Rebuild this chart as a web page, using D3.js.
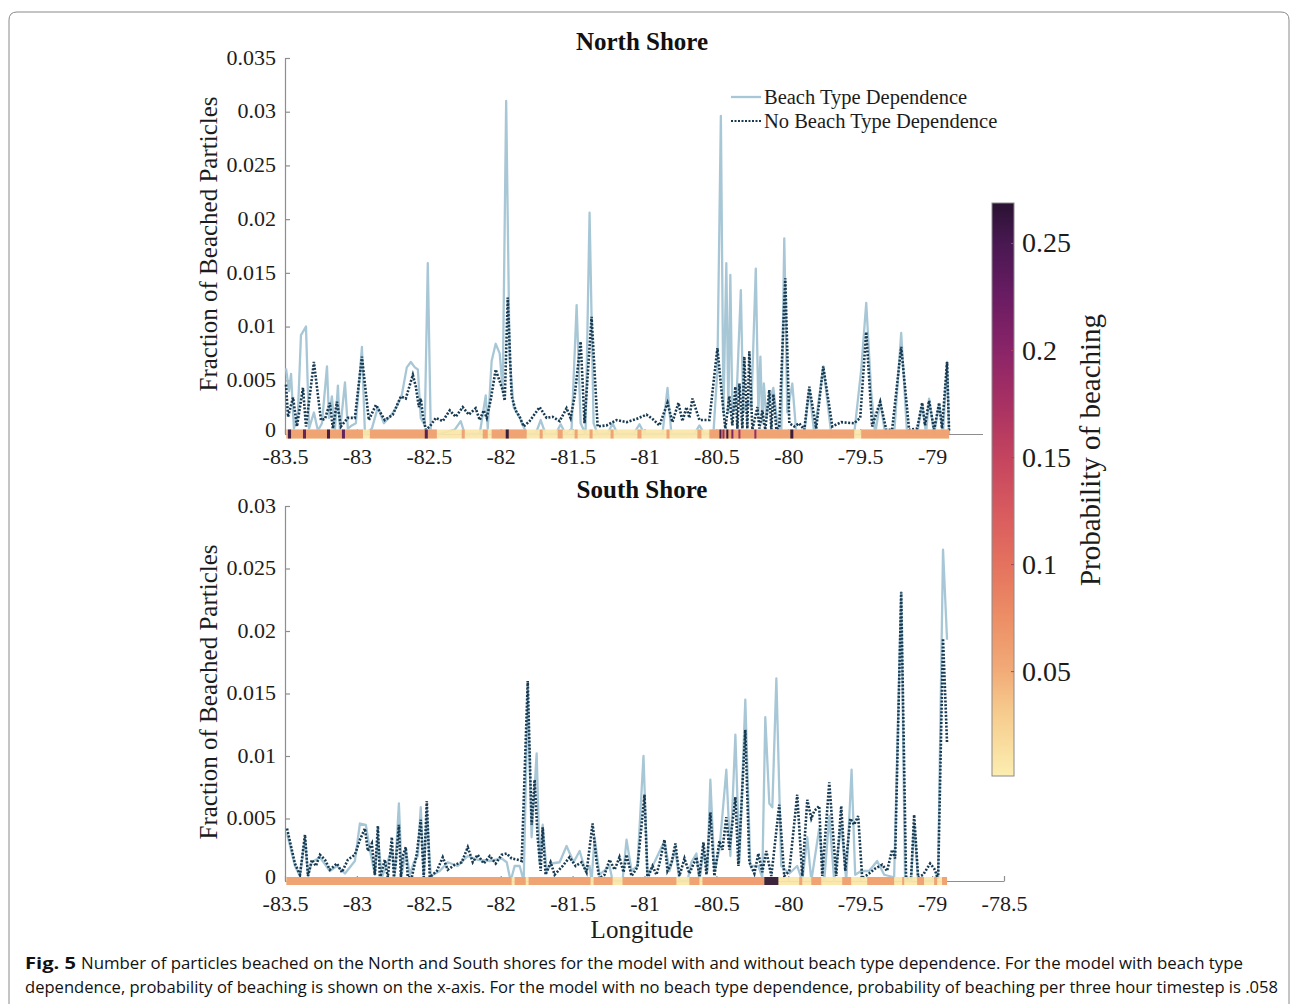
<!DOCTYPE html>
<html><head><meta charset="utf-8">
<script src="https://cdn.jsdelivr.net/npm/d3@7"></script>
<style>body{margin:0;background:#fff}svg{display:block}</style>
</head><body>
<script>
// ---------------- DATA ----------------
const xTicks = [-83.5,-83,-82.5,-82,-81.5,-81,-80.5,-80,-79.5,-79,-78.5];
const xTickLabels = ["-83.5","-83","-82.5","-82","-81.5","-81","-80.5","-80","-79.5","-79","-78.5"];
const northYTicks = [0,0.005,0.01,0.015,0.02,0.025,0.03,0.035];
const northYLabels = ["0","0.005","0.01","0.015","0.02","0.025","0.03","0.035"];
const southYTicks = [0,0.005,0.01,0.015,0.02,0.025,0.03];
const southYLabels = ["0","0.005","0.01","0.015","0.02","0.025","0.03"];
const cbTicks = [0.05,0.1,0.15,0.2,0.25];
const cbTickLabels = ["0.05","0.1","0.15","0.2","0.25"];
const cbStopValues = [0.001,0.03,0.05,0.075,0.1,0.125,0.15,0.175,0.2,0.225,0.25,0.2687];
const cbStopColors = ["#fbeeb0","#f6cc8e","#f2ab78","#ec8e66","#e4725e","#d85a5e","#c4445f","#a83163","#8a2468","#6a1c62","#481851","#2a1232"];
const seriesNames = ["Beach Type Dependence","No Beach Type Dependence"];

// North shore, beach type dependence [longitude, fraction]
const northBeach = [[-83.493,0.0061],[-83.472,0.004],[-83.458,0.0056],[-83.438,0.0005],[-83.41,0.002],[-83.389,0.0092],[-83.354,0.01],[-83.333,0.0005],[-83.299,0.002],[-83.271,0.0003],[-83.243,0.001],[-83.208,0.0063],[-83.194,0.0015],[-83.174,0.0035],[-83.153,0.0003],[-83.132,0.0045],[-83.118,0.0002],[-83.083,0.0048],[-83.063,0.0005],[-83.035,0.0008],[-83.007,0.001],[-82.965,0.0081],[-82.944,0.0],[-82.896,0.0005],[-82.854,0.0025],[-82.812,0.001],[-82.771,0.0016],[-82.729,0.0024],[-82.688,0.0036],[-82.653,0.0062],[-82.625,0.0067],[-82.597,0.0062],[-82.576,0.006],[-82.556,0.0015],[-82.528,0.0008],[-82.507,0.0159],[-82.486,0.0],[-82.424,0.0],[-82.319,0.0004],[-82.278,0.0012],[-82.25,0.0],[-82.146,0.0],[-82.104,0.0036],[-82.09,0.0005],[-82.063,0.0068],[-82.035,0.0084],[-82.007,0.0075],[-81.986,0.004],[-81.962,0.031],[-81.938,0.007],[-81.91,0.0025],[-81.868,0.0015],[-81.819,0.0],[-81.757,0.0],[-81.722,0.0013],[-81.688,0.0],[-81.618,0.0],[-81.583,0.0009],[-81.549,0.0],[-81.507,0.0005],[-81.472,0.012],[-81.444,0.001],[-81.41,0.0],[-81.382,0.0206],[-81.354,0.001],[-81.326,0.0],[-81.257,0.0],[-81.222,0.001],[-81.188,0.0],[-81.076,0.0],[-81.035,0.0009],[-81.0,0.0],[-80.875,0.0],[-80.84,0.0043],[-80.813,0.0],[-80.653,0.0],[-80.618,0.0008],[-80.583,0.0],[-80.521,0.0],[-80.493,0.006],[-80.469,0.0296],[-80.451,0.002],[-80.431,0.0159],[-80.417,0.002],[-80.403,0.0148],[-80.389,0.002],[-80.361,0.003],[-80.33,0.0134],[-80.313,0.002],[-80.285,0.003],[-80.257,0.0025],[-80.226,0.0154],[-80.208,0.002],[-80.194,0.0072],[-80.181,0.001],[-80.17,0.0047],[-80.153,0.0015],[-80.132,0.003],[-80.104,0.0043],[-80.076,0.001],[-80.049,0.0],[-80.028,0.0182],[-80.007,0.002],[-79.972,0.0047],[-79.944,0.0],[-79.889,0.0],[-79.854,0.0042],[-79.819,0.0],[-79.757,0.0063],[-79.701,0.0],[-79.542,0.0],[-79.493,0.006],[-79.458,0.0122],[-79.424,0.004],[-79.396,0.0],[-79.361,0.003],[-79.326,0.0],[-79.264,0.0],[-79.215,0.0094],[-79.174,0.0],[-79.104,0.0],[-79.069,0.0028],[-79.042,0.0],[-79.021,0.0033],[-78.986,0.0],[-78.951,0.0028],[-78.924,0.0],[-78.896,0.0067],[-78.882,0.0]];

// North shore, no beach type dependence
const northNoBeach = [[-83.493,0.0046],[-83.479,0.0016],[-83.444,0.0034],[-83.417,0.0007],[-83.375,0.0043],[-83.354,0.0007],[-83.299,0.0067],[-83.25,0.0013],[-83.222,0.0014],[-83.188,0.0029],[-83.167,0.0005],[-83.139,0.003],[-83.111,0.0007],[-83.063,0.0015],[-83.014,0.0015],[-82.965,0.0072],[-82.917,0.0013],[-82.868,0.0027],[-82.806,0.0013],[-82.75,0.0018],[-82.694,0.0035],[-82.66,0.0033],[-82.611,0.0055],[-82.59,0.0044],[-82.569,0.0025],[-82.556,0.0033],[-82.542,0.0018],[-82.521,0.0004],[-82.493,0.0007],[-82.451,0.0015],[-82.403,0.0012],[-82.354,0.0022],[-82.313,0.0016],[-82.264,0.0025],[-82.222,0.0018],[-82.174,0.0024],[-82.146,0.0013],[-82.118,0.0022],[-82.097,0.0015],[-82.069,0.0032],[-82.035,0.006],[-81.986,0.0041],[-81.972,0.0031],[-81.951,0.0127],[-81.924,0.0035],[-81.896,0.0022],[-81.868,0.0016],[-81.84,0.0007],[-81.799,0.0012],[-81.729,0.0025],[-81.681,0.0015],[-81.639,0.0016],[-81.59,0.0012],[-81.542,0.0024],[-81.514,0.0015],[-81.486,0.0035],[-81.444,0.0086],[-81.417,0.001],[-81.368,0.0109],[-81.326,0.0007],[-81.264,0.0008],[-81.194,0.0013],[-81.125,0.0011],[-81.056,0.0014],[-80.986,0.0018],[-80.944,0.0014],[-80.896,0.0008],[-80.84,0.0029],[-80.806,0.0011],[-80.764,0.0029],[-80.736,0.0012],[-80.708,0.0025],[-80.688,0.0015],[-80.667,0.0033],[-80.618,0.0013],[-80.549,0.0013],[-80.493,0.008],[-80.458,0.0031],[-80.438,0.0005],[-80.41,0.0035],[-80.389,0.0008],[-80.368,0.0044],[-80.354,0.0005],[-80.34,0.0047],[-80.319,0.0005],[-80.306,0.0072],[-80.285,0.0005],[-80.271,0.0077],[-80.25,0.0004],[-80.215,0.0025],[-80.201,0.0005],[-80.181,0.0022],[-80.16,0.0004],[-80.132,0.0041],[-80.118,0.0004],[-80.104,0.0037],[-80.083,0.0004],[-80.063,0.0006],[-80.021,0.0145],[-79.993,0.001],[-79.958,0.0007],[-79.924,0.001],[-79.889,0.0004],[-79.854,0.0044],[-79.806,0.0005],[-79.757,0.0063],[-79.694,0.0007],[-79.632,0.0011],[-79.542,0.001],[-79.5,0.0015],[-79.458,0.0095],[-79.417,0.0007],[-79.361,0.003],[-79.319,0.0004],[-79.278,0.0004],[-79.215,0.0081],[-79.16,0.0004],[-79.104,0.0005],[-79.069,0.0029],[-79.049,0.0008],[-79.021,0.0031],[-78.986,0.0004],[-78.951,0.0029],[-78.931,0.0005],[-78.896,0.0067],[-78.882,0.0003]];

// South shore, beach type dependence
const southBeach = [[-83.486,0.0038],[-83.431,0.0012],[-83.396,0.0004],[-83.361,0.0034],[-83.34,0.0004],[-83.313,0.0015],[-83.257,0.0019],[-83.188,0.0008],[-83.139,0.0012],[-83.083,0.0006],[-83.014,0.0016],[-82.979,0.0046],[-82.938,0.0045],[-82.91,0.0025],[-82.875,0.0005],[-82.854,0.0035],[-82.826,0.0003],[-82.757,0.0025],[-82.736,0.0005],[-82.708,0.0062],[-82.688,0.0005],[-82.66,0.0025],[-82.632,0.0005],[-82.604,0.0015],[-82.576,0.002],[-82.556,0.0059],[-82.535,0.0004],[-82.514,0.0055],[-82.486,0.0004],[-82.424,0.0008],[-82.368,0.0015],[-82.299,0.0012],[-82.229,0.002],[-82.16,0.0017],[-82.076,0.0016],[-81.993,0.0018],[-81.958,0.0015],[-81.931,0.0],[-81.903,0.0012],[-81.868,0.0012],[-81.84,0.0],[-81.812,0.015],[-81.785,0.0035],[-81.75,0.0102],[-81.729,0.0015],[-81.708,0.0045],[-81.681,0.0008],[-81.646,0.0014],[-81.59,0.0015],[-81.542,0.0028],[-81.493,0.0015],[-81.451,0.0024],[-81.41,0.0008],[-81.382,0.0012],[-81.368,0.0],[-81.347,0.0035],[-81.313,0.0005],[-81.243,0.0012],[-81.222,0.0],[-81.153,0.0],[-81.125,0.0033],[-81.09,0.0008],[-81.049,0.0012],[-81.007,0.01],[-80.979,0.0004],[-80.931,0.0015],[-80.861,0.0032],[-80.826,0.0008],[-80.785,0.0025],[-80.757,0.0],[-80.701,0.0],[-80.674,0.0015],[-80.639,0.0022],[-80.618,0.0],[-80.59,0.0024],[-80.563,0.0008],[-80.542,0.0081],[-80.514,0.0008],[-80.479,0.0025],[-80.431,0.0089],[-80.403,0.002],[-80.368,0.0117],[-80.34,0.0015],[-80.299,0.0145],[-80.264,0.0012],[-80.208,0.0012],[-80.181,0.0003],[-80.16,0.0131],[-80.132,0.0062],[-80.111,0.0059],[-80.083,0.0162],[-80.049,0.0012],[-79.993,0.0006],[-79.938,0.0012],[-79.903,0.0],[-79.868,0.0035],[-79.84,0.0],[-79.785,0.0042],[-79.75,0.0],[-79.715,0.0052],[-79.681,0.0],[-79.632,0.0045],[-79.597,0.0],[-79.56,0.0089],[-79.535,0.0005],[-79.493,0.0008],[-79.438,0.0008],[-79.382,0.0016],[-79.333,0.0005],[-79.264,0.0003],[-79.215,0.0231],[-79.188,0.0],[-79.146,0.0],[-79.125,0.0045],[-79.097,0.0],[-78.986,0.0],[-78.958,0.0008],[-78.924,0.0265],[-78.896,0.0193]];

// South shore, no beach type dependence
const southNoBeach = [[-83.486,0.0042],[-83.431,0.0014],[-83.396,0.0005],[-83.361,0.0037],[-83.34,0.0004],[-83.313,0.0017],[-83.285,0.0012],[-83.257,0.0021],[-83.222,0.0017],[-83.188,0.0009],[-83.139,0.0014],[-83.104,0.0007],[-83.063,0.0017],[-83.014,0.0021],[-82.979,0.0033],[-82.944,0.0042],[-82.924,0.0024],[-82.896,0.003],[-82.875,0.0005],[-82.854,0.0044],[-82.84,0.0002],[-82.806,0.0017],[-82.785,0.0003],[-82.757,0.0035],[-82.743,0.0003],[-82.729,0.0015],[-82.708,0.0045],[-82.694,0.0003],[-82.681,0.002],[-82.66,0.0027],[-82.646,0.0003],[-82.618,0.0003],[-82.583,0.0022],[-82.556,0.0049],[-82.535,0.0003],[-82.514,0.0064],[-82.493,0.0003],[-82.444,0.0008],[-82.403,0.0019],[-82.368,0.0009],[-82.319,0.0013],[-82.271,0.0015],[-82.229,0.0027],[-82.194,0.0015],[-82.16,0.0021],[-82.118,0.0014],[-82.076,0.002],[-82.035,0.0014],[-81.993,0.0021],[-81.958,0.0022],[-81.924,0.0018],[-81.882,0.0017],[-81.854,0.0016],[-81.812,0.016],[-81.785,0.0045],[-81.764,0.0081],[-81.743,0.0035],[-81.722,0.0008],[-81.708,0.0043],[-81.688,0.0005],[-81.653,0.0015],[-81.625,0.0005],[-81.569,0.0012],[-81.521,0.0019],[-81.479,0.0012],[-81.438,0.0015],[-81.403,0.0007],[-81.361,0.0046],[-81.333,0.0015],[-81.313,0.0002],[-81.278,0.0005],[-81.243,0.0017],[-81.208,0.0009],[-81.174,0.0019],[-81.146,0.0007],[-81.125,0.0021],[-81.09,0.0004],[-81.049,0.0011],[-81.0,0.0069],[-80.979,0.0002],[-80.944,0.0012],[-80.917,0.0005],[-80.896,0.0014],[-80.861,0.0033],[-80.84,0.0008],[-80.813,0.0014],[-80.785,0.003],[-80.757,0.0004],[-80.722,0.0018],[-80.688,0.0006],[-80.639,0.0019],[-80.618,0.0004],[-80.59,0.0031],[-80.569,0.0005],[-80.542,0.0055],[-80.514,0.0004],[-80.479,0.0032],[-80.458,0.0025],[-80.431,0.0051],[-80.41,0.0025],[-80.368,0.0067],[-80.347,0.0012],[-80.299,0.0121],[-80.271,0.0015],[-80.236,0.0006],[-80.208,0.0022],[-80.181,0.0007],[-80.153,0.0024],[-80.118,0.0004],[-80.063,0.0061],[-80.028,0.0004],[-79.993,0.0008],[-79.938,0.0069],[-79.903,0.0004],[-79.868,0.0065],[-79.84,0.005],[-79.819,0.0056],[-79.785,0.006],[-79.764,0.0004],[-79.715,0.0079],[-79.667,0.0004],[-79.632,0.006],[-79.604,0.0008],[-79.569,0.005],[-79.542,0.0045],[-79.514,0.0052],[-79.486,0.0002],[-79.438,0.0006],[-79.396,0.001],[-79.347,0.0013],[-79.313,0.0008],[-79.278,0.0025],[-79.257,0.0018],[-79.215,0.0231],[-79.181,0.0002],[-79.146,0.0003],[-79.125,0.0053],[-79.097,0.0003],[-79.062,0.0005],[-79.014,0.0014],[-78.986,0.001],[-78.958,0.0002],[-78.924,0.0194],[-78.896,0.011]];

// Probability of beaching along the coast [lonStart, lonEnd, probability]
const northStrip = [[-83.49,-78.882,0.008],[-83.49,-82.958,0.062],[-82.91,-82.444,0.062],[-82.271,-82.25,0.062],[-82.125,-82.09,0.062],[-82.063,-81.819,0.062],[-81.729,-81.708,0.062],[-81.604,-81.569,0.062],[-81.486,-81.465,0.062],[-81.382,-81.361,0.062],[-81.236,-81.215,0.062],[-81.049,-81.021,0.062],[-80.847,-80.826,0.062],[-80.632,-80.604,0.062],[-80.549,-79.542,0.062],[-79.493,-78.882,0.062],[-83.479,-83.458,0.26],[-83.375,-83.354,0.24],[-83.208,-83.187,0.26],[-83.104,-83.083,0.24],[-82.528,-82.507,0.25],[-81.965,-81.944,0.27],[-80.479,-80.465,0.26],[-80.458,-80.444,0.2],[-80.431,-80.417,0.27],[-80.396,-80.382,0.22],[-80.347,-80.333,0.18],[-80.236,-80.222,0.2],[-79.986,-79.965,0.27]];
const southStrip = [[-83.49,-78.896,0.008],[-83.49,-81.924,0.062],[-81.903,-81.826,0.062],[-81.806,-81.375,0.062],[-81.354,-81.222,0.062],[-81.153,-80.778,0.062],[-80.688,-80.618,0.062],[-80.597,-80.167,0.066],[-80.167,-80.069,0.268],[-79.924,-79.903,0.062],[-79.84,-79.771,0.062],[-79.625,-79.563,0.062],[-79.451,-79.264,0.062],[-79.208,-79.194,0.062],[-79.104,-79.056,0.062],[-78.986,-78.965,0.062],[-78.931,-78.896,0.062]];

// ---------------- DRAWING ----------------
const W = 1293, H = 1004;
const serif = "'Liberation Serif','Times New Roman',serif";
const axisColor = "#8e8e8e", textColor = "#1c1c1c";
const solidColor = "#a8c7d6", dotColor = "#173a52";

const svg = d3.select("body").append("svg").attr("width", W).attr("height", H);
svg.append("rect").attr("width", W).attr("height", H).attr("fill", "#fff");

// outer frame
svg.append("path").attr("d", "M9,1010 L9,20 Q9,12 17,12 L1281,12 Q1289,12 1289,20 L1289,1010")
  .attr("fill", "none").attr("stroke", "#8a8a8a").attr("stroke-width", 1);

const x = d3.scaleLinear().domain([-83.5, -78.5]).range([285, 1004]);
const color = d3.scaleLinear().domain(cbStopValues).range(cbStopColors).interpolate(d3.interpolateRgb).clamp(true);

function styleAxis(g, size) {
  g.attr("font-family", serif).attr("font-size", size);
  g.select(".domain").attr("stroke", axisColor).attr("stroke-width", 1.2);
  g.selectAll(".tick line").attr("stroke", axisColor).attr("stroke-width", 1.2);
  g.selectAll(".tick text").attr("fill", textColor);
}

function panel(opt) {
  const y = d3.scaleLinear().domain([0, opt.ymax]).range([opt.bottom, opt.top]);
  const g = svg.append("g");

  // y axis
  const ya = g.append("g").attr("transform", "translate(285,0)")
    .call(d3.axisLeft(y).tickValues(opt.yTicks).tickFormat((d, i) => opt.yLabels[i])
      .tickSizeInner(-5).tickSizeOuter(0).tickPadding(9));
  styleAxis(ya, 22);
  ya.selectAll(".tick text").attr("dy", (d, i) => i === 0 ? "0.12em" : "0.28em");

  // x axis (north panel: the last label sits under the colorbar)
  const xa = g.append("g").attr("transform", `translate(0,${opt.bottom})`)
    .call(d3.axisBottom(x).tickValues(xTicks)
      .tickFormat((d, i) => (opt.hideLast && i === xTicks.length - 1) ? "" : xTickLabels[i])
      .tickSizeInner(-5).tickSizeOuter(0).tickPadding(14));
  styleAxis(xa, 22);

  const line = d3.line().x(d => x(d[0])).y(d => y(d[1]));
  g.append("path").datum(opt.beach).attr("d", line).attr("fill", "none")
    .attr("stroke", solidColor).attr("stroke-width", 2.3).attr("stroke-linejoin", "round");
  g.append("path").datum(opt.noBeach).attr("d", line).attr("fill", "none")
    .attr("stroke", dotColor).attr("stroke-width", 2.6).attr("stroke-dasharray", "2,1.6");

  // probability strip
  g.append("g").selectAll("rect").data(opt.strip).join("rect")
    .attr("x", d => x(d[0])).attr("width", d => Math.max(1, x(d[1]) - x(d[0])))
    .attr("y", y(0) - opt.stripH / 2).attr("height", opt.stripH)
    .attr("fill", d => color(d[2])).attr("opacity", 0.92);

  // title
  g.append("text").attr("x", 642).attr("y", opt.titleY).attr("text-anchor", "middle")
    .attr("font-family", serif).attr("font-weight", "bold").attr("font-size", 25)
    .attr("fill", "#111").text(opt.title);

  // y label
  g.append("text").attr("transform", `translate(208,${opt.ylabY}) rotate(-90)`)
    .attr("text-anchor", "middle").attr("dy", "0.35em")
    .attr("font-family", serif).attr("font-size", 25).attr("fill", textColor)
    .text("Fraction of Beached Particles");
  return y;
}

panel({top: 58, bottom: 434, ymax: 0.035, yTicks: northYTicks, yLabels: northYLabels,
  beach: northBeach, noBeach: northNoBeach, strip: northStrip, stripH: 9, hideLast: true,
  title: "North Shore", titleY: 50, ylabY: 244});
panel({top: 506, bottom: 881, ymax: 0.03, yTicks: southYTicks, yLabels: southYLabels,
  beach: southBeach, noBeach: southNoBeach, strip: southStrip, stripH: 8, hideLast: false,
  title: "South Shore", titleY: 498, ylabY: 692});

svg.append("text").attr("x", 642).attr("y", 938).attr("text-anchor", "middle")
  .attr("font-family", serif).attr("font-size", 25).attr("fill", textColor).text("Longitude");

// legend
const leg = svg.append("g");
[0, 1].forEach(i => {
  const ly = 97 + i * 24;
  leg.append("line").attr("x1", 731).attr("x2", 761).attr("y1", ly).attr("y2", ly)
    .attr("stroke", i === 0 ? solidColor : dotColor).attr("stroke-width", i === 0 ? 2.3 : 2.2)
    .attr("stroke-dasharray", i === 0 ? null : "2,1.5");
  leg.append("text").attr("x", 764).attr("y", ly + 7).attr("font-family", serif)
    .attr("font-size", 20.5).attr("fill", textColor).text(seriesNames[i]);
});

// colorbar (white backing hides the end of the north axis)
svg.append("rect").attr("x", 983).attr("y", 195).attr("width", 140).attr("height", 595).attr("fill", "#fff");
const cb = d3.scaleLinear().domain([0.001, 0.2687]).range([776, 203]);
const defs = svg.append("defs");
const grad = defs.append("linearGradient").attr("id", "cbg").attr("x1", 0).attr("y1", 1).attr("x2", 0).attr("y2", 0);
cbStopValues.forEach((v, i) => grad.append("stop")
  .attr("offset", (v - 0.001) / (0.2687 - 0.001)).attr("stop-color", cbStopColors[i]));
svg.append("rect").attr("x", 992).attr("y", 203).attr("width", 22).attr("height", 573)
  .attr("fill", "url(#cbg)").attr("stroke", "#8a8a8a").attr("stroke-width", 1);
const cba = svg.append("g").attr("transform", "translate(1014,0)")
  .call(d3.axisRight(cb).tickValues(cbTicks).tickFormat((d, i) => cbTickLabels[i])
    .tickSizeInner(-3).tickSizeOuter(0).tickPadding(8));
cba.select(".domain").remove();
cba.selectAll(".tick line").attr("stroke", "#b04060").attr("stroke-width", 1);
cba.attr("font-family", serif).attr("font-size", 28);
cba.selectAll(".tick text").attr("fill", textColor);
svg.append("text").attr("transform", "translate(1090,450) rotate(-90)")
  .attr("text-anchor", "middle").attr("dy", "0.35em")
  .attr("font-family", serif).attr("font-size", 29).attr("fill", textColor)
  .text("Probability of beaching");

// caption
const capFont = "'Open Sans','Noto Sans',sans-serif";
svg.append("text").attr("x", 25).attr("y", 969).attr("font-family", capFont)
  .attr("font-weight", "bold").attr("font-size", 16.5).attr("fill", "#111")
  .attr("textLength", 51).attr("lengthAdjust", "spacingAndGlyphs").text("Fig. 5");
svg.append("text").attr("x", 81).attr("y", 969).attr("font-family", capFont)
  .attr("font-size", 16.5).attr("fill", "#111")
  .attr("textLength", 1162).attr("lengthAdjust", "spacingAndGlyphs")
  .text("Number of particles beached on the North and South shores for the model with and without beach type dependence. For the model with beach type");
svg.append("text").attr("x", 25).attr("y", 993).attr("font-family", capFont)
  .attr("font-size", 16.5).attr("fill", "#111")
  .attr("textLength", 1253).attr("lengthAdjust", "spacingAndGlyphs")
  .text("dependence, probability of beaching is shown on the x-axis. For the model with no beach type dependence, probability of beaching per three hour timestep is .058");
</script>
</body></html>
